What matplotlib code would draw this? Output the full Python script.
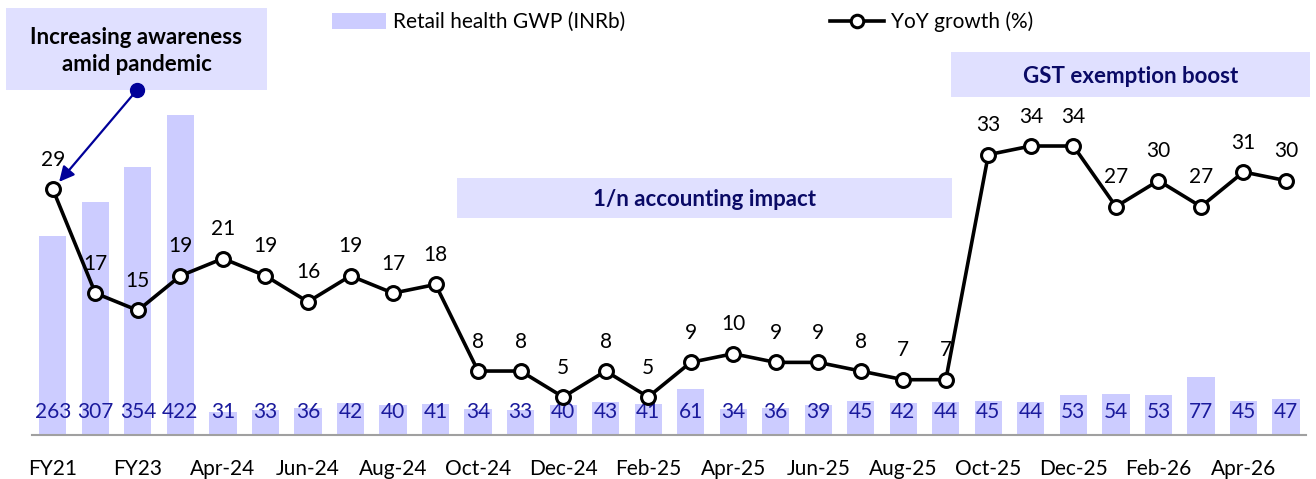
import matplotlib.pyplot as plt
from matplotlib.patches import Rectangle, Patch
from matplotlib.lines import Line2D

# Data
categories = ["FY21", "FY22", "FY23", "FY24",
              "Apr-24", "May-24", "Jun-24", "Jul-24", "Aug-24", "Sep-24",
              "Oct-24", "Nov-24", "Dec-24", "Jan-25", "Feb-25", "Mar-25",
              "Apr-25", "May-25", "Jun-25", "Jul-25", "Aug-25", "Sep-25",
              "Oct-25", "Nov-25", "Dec-25", "Jan-26", "Feb-26", "Mar-26",
              "Apr-26", "May-26"]
gwp = [263, 307, 354, 422, 31, 33, 36, 42, 40, 41, 34, 33, 40, 43, 41, 61,
       34, 36, 39, 45, 42, 44, 45, 44, 53, 54, 53, 77, 45, 47]
yoy = [29, 17, 15, 19, 21, 19, 16, 19, 17, 18, 8, 8, 5, 8, 5, 9,
       10, 9, 9, 8, 7, 7, 33, 34, 34, 27, 30, 27, 31, 30]

FONT = ["Lato", "DejaVu Sans"]
plt.rcParams["font.family"] = FONT

BAR_COLOR = "#CCCCFF"
BOX_COLOR = "#E0E0FF"
NAVY = "#000099"
LABEL_NAVY = "#1A1A9C"
FS = 15
FS_BOLD = 16

W, H = 1316, 479
fig = plt.figure(figsize=(W / 100, H / 100), dpi=100)
ax = fig.add_axes([32 / W, 1 - 435 / H, (1306 - 32) / W, 435 / H])
ax2 = ax.twinx()
ax.patch.set_visible(False)
ax2.patch.set_visible(False)

x = list(range(len(categories)))

# Bars
ax.bar(x, gwp, width=0.64, color=BAR_COLOR, zorder=1)
for xi, v in zip(x, gwp):
    ax.text(xi, 31, str(v), ha="center", va="center", fontsize=FS,
            color=LABEL_NAVY, zorder=3)
ax.set_ylim(0, 574)
ax.set_xlim(-0.49, 29.47)

# Line
ax2.plot(x, yoy, color="black", lw=2.6, marker="o", markersize=10,
         markerfacecolor="white", markeredgecolor="black",
         markeredgewidth=2.2, zorder=4)
for xi, v in zip(x, yoy):
    ax2.annotate(str(v), (xi, v), xytext=(0, 14), textcoords="offset points",
                 ha="center", va="bottom", fontsize=FS, color="black")
ax2.set_ylim(0.61, 50.87)

# Axes styling
for a in (ax, ax2):
    for s in ("top", "right", "left"):
        a.spines[s].set_visible(False)
    a.set_yticks([])
ax2.spines["bottom"].set_visible(False)
ax.spines["bottom"].set_color("#A0A0A0")
ax.spines["bottom"].set_linewidth(1.5)
ax.set_xticks(x[::2])
ax.set_xticklabels(categories[::2], fontsize=FS)
ax.tick_params(axis="x", length=0, pad=17)

# Legend
handles = [Patch(facecolor=BAR_COLOR, edgecolor="none"),
           Line2D([0], [0], color="black", lw=2.6, marker="o", markersize=9,
                  markerfacecolor="white", markeredgewidth=2.2)]
fig.legend(handles, ["Retail health GWP (INRb)", "YoY growth (%)"],
           loc="center left", bbox_to_anchor=(313 / W, 1 - 22 / H), ncol=2,
           frameon=False, fontsize=FS, handlelength=2.6, handleheight=0.75,
           handletextpad=0.35, columnspacing=9.8)

# Annotation boxes
def add_box(x0, y0, x1, y1, text, color):
    fig.add_artist(Rectangle((x0 / W, 1 - y1 / H), (x1 - x0) / W, (y1 - y0) / H,
                             transform=fig.transFigure, facecolor=BOX_COLOR,
                             edgecolor="none", zorder=0))
    fig.text((x0 + x1) / 2 / W, 1 - ((y0 + y1) / 2 + 2) / H, text,
             ha="center", va="center", fontsize=FS_BOLD, fontweight="bold",
             color=color, linespacing=1.3)

add_box(6, 8, 267, 90, "Increasing awareness\namid pandemic", "black")
add_box(457, 178, 952, 218, "1/n accounting impact", "#0A0A66")
add_box(951, 52, 1310, 97, "GST exemption boost", "#0A0A66")

# Arrow from the first box to the FY21 growth point
tail = (137 / W, 1 - 90 / H)
ax2.annotate("", xy=(0, yoy[0]), xycoords="data",
             xytext=tail, textcoords="figure fraction",
             arrowprops=dict(arrowstyle="-|>,head_length=0.9,head_width=0.45",
                             color=NAVY, lw=1.6, shrinkB=7))
fig.add_artist(Line2D([tail[0]], [tail[1]], marker="o", markersize=10,
                      color=NAVY, transform=fig.transFigure))

fig.savefig("out.png", dpi=100)
